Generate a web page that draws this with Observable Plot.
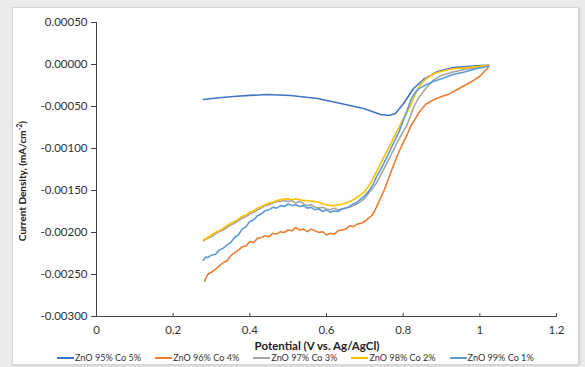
<!DOCTYPE html>
<html>
<head>
<meta charset="utf-8">
<script src="https://cdn.jsdelivr.net/npm/d3@7"></script>
<script src="https://cdn.jsdelivr.net/npm/@observablehq/plot@0.6"></script>
<style>
  html, body { margin: 0; padding: 0; }
  body { width: 585px; height: 367px; background: #ececec; position: relative; overflow: hidden; font-family: Lato, "Open Sans", sans-serif; }
  #panel { position: absolute; left: 12px; top: 7px; width: 565px; height: 356px; background: #fff; border: 1px solid #d4d4d4; box-shadow: 1px 1px 3px rgba(0,0,0,0.12); }
  #chart { position: absolute; left: 0; top: 0; }
  #ylabel { position: absolute; left: 22px; top: 181px; transform: translate(-50%, -50%) rotate(-90deg); font-size: 10px; font-weight: bold; color: #222; white-space: nowrap; line-height: 12px; }
  #xlabel { position: absolute; left: 317px; top: 345px; transform: translate(-50%, -50%); font-size: 11.5px; font-weight: bold; color: #222; white-space: nowrap; }
  #legend { position: absolute; left: 57px; top: 352px; display: flex; font-size: 9.1px; color: #333; white-space: nowrap; }
  .item { display: flex; align-items: center; margin-right: 14px; }
  .sw { display: inline-block; width: 17px; height: 2px; margin-right: 1px; }
</style>
</head>
<body>
<div id="panel"></div>
<div id="chart"></div>
<div id="ylabel">Current Density, (mA/cm<sup style="font-size:7px; line-height:0">-2</sup>)</div>
<div id="xlabel">Potential (V vs. Ag/AgCl)</div>
<div id="legend"></div>
<script>
const seriesNames = ["ZnO 95% Co 5%", "ZnO 96% Co 4%", "ZnO 97% Co 3%", "ZnO 98% Co 2%", "ZnO 99% Co 1%"];
const seriesColors = ["#4472C4", "#ED7D31", "#A5A5A5", "#FFC000", "#5B9BD5"];
const xTicks = [0, 0.2, 0.4, 0.6, 0.8, 1, 1.2];
const yTicks = [0.0005, 0, -0.0005, -0.001, -0.0015, -0.002, -0.0025, -0.003];

// [potential (V), current density]
const co5 = [
  [0.279,-0.000417],[0.32,-0.000395],[0.357,-0.000381],[0.40,-0.000368],[0.446,-0.000357],[0.506,-0.000369],
  [0.577,-0.000405],[0.637,-0.000464],[0.697,-0.000524],[0.741,-0.000595],[0.762,-0.000607],[0.780,-0.000583],
  [0.801,-0.000464],[0.827,-0.000286],[0.853,-0.000179],[0.890,-0.000083],[0.931,-0.000036],[1.002,-0.000012],[1.023,-0.000010]
];
const co4 = [
  [0.282,-0.00258],[0.29,-0.00250],[0.30,-0.00247],[0.31,-0.00244],[0.32,-0.00240],[0.33,-0.00236],[0.34,-0.00234],
  [0.35,-0.00228],[0.36,-0.00224],[0.37,-0.00221],[0.38,-0.00217],[0.39,-0.00216],[0.40,-0.00211],[0.41,-0.00212],
  [0.42,-0.00207],[0.43,-0.00206],[0.44,-0.00204],[0.45,-0.00205],[0.46,-0.00201],[0.47,-0.00202],[0.48,-0.00199],
  [0.49,-0.00200],[0.50,-0.00197],[0.51,-0.00198],[0.52,-0.00194],[0.53,-0.00197],[0.54,-0.00196],[0.55,-0.00199],
  [0.56,-0.00196],[0.57,-0.00198],[0.58,-0.00200],[0.59,-0.00199],[0.60,-0.00203],[0.61,-0.00201],[0.62,-0.00202],
  [0.63,-0.00198],[0.64,-0.00197],[0.65,-0.00196],[0.66,-0.00192],[0.67,-0.00193],[0.68,-0.00190],[0.69,-0.00189],
  [0.70,-0.00187],[0.71,-0.00183],[0.72,-0.00179],[0.73,-0.00170],[0.74,-0.00160],[0.75,-0.00150],[0.76,-0.00138],
  [0.77,-0.00126],[0.78,-0.00114],[0.79,-0.00103],[0.80,-0.00093],[0.81,-0.00084],[0.82,-0.00073],[0.83,-0.00066],
  [0.84,-0.00058],[0.85,-0.00052],[0.86,-0.00047],[0.88,-0.00042],[0.90,-0.00038],[0.92,-0.00035],[0.94,-0.00030],
  [0.96,-0.00025],[0.98,-0.00020],[1.00,-0.00014],[1.023,-0.00003]
];
const co3 = [
  [0.279,-0.00210],[0.29,-0.00207],[0.30,-0.00205],[0.31,-0.00202],[0.32,-0.00199],[0.33,-0.00197],[0.34,-0.00194],
  [0.35,-0.00191],[0.36,-0.00189],[0.37,-0.00186],[0.38,-0.00183],[0.39,-0.00181],[0.40,-0.00178],[0.41,-0.00176],
  [0.42,-0.00173],[0.43,-0.00171],[0.44,-0.00168],[0.45,-0.00167],[0.46,-0.00165],[0.47,-0.00163],[0.48,-0.00163],
  [0.49,-0.00162],[0.50,-0.00163],[0.51,-0.00162],[0.52,-0.00165],[0.53,-0.00163],[0.54,-0.00166],[0.55,-0.00168],
  [0.56,-0.00167],[0.57,-0.00170],[0.58,-0.00171],[0.59,-0.00170],[0.60,-0.00172],[0.61,-0.00173],[0.62,-0.00171],
  [0.63,-0.00173],[0.64,-0.00172],[0.65,-0.00171],[0.66,-0.00170],[0.67,-0.00168],[0.68,-0.00166],[0.69,-0.00163],
  [0.70,-0.00159],[0.71,-0.00153],[0.72,-0.00148],[0.73,-0.00141],[0.74,-0.00133],[0.75,-0.00124],[0.76,-0.00115],
  [0.77,-0.00106],[0.78,-0.00097],[0.79,-0.00088],[0.80,-0.00080],[0.81,-0.00072],[0.82,-0.00060],[0.83,-0.00048],
  [0.84,-0.00040],[0.85,-0.00034],[0.86,-0.00028],[0.88,-0.00018],[0.90,-0.00013],[0.93,-0.00009],[0.96,-0.00006],
  [1.00,-0.00003],[1.023,-0.00001]
];
const co2 = [
  [0.279,-0.00209],[0.29,-0.00206],[0.30,-0.00203],[0.31,-0.00200],[0.32,-0.00198],[0.33,-0.00195],[0.34,-0.00192],
  [0.35,-0.00189],[0.36,-0.00187],[0.37,-0.00184],[0.38,-0.00181],[0.39,-0.00179],[0.40,-0.00176],[0.41,-0.00174],
  [0.42,-0.00171],[0.43,-0.00169],[0.44,-0.00167],[0.45,-0.00165],[0.46,-0.00164],[0.47,-0.00162],[0.48,-0.00161],
  [0.49,-0.00160],[0.50,-0.00160],[0.51,-0.00161],[0.52,-0.00160],[0.53,-0.00161],[0.54,-0.00162],[0.55,-0.00162],
  [0.56,-0.00163],[0.57,-0.00163],[0.58,-0.00164],[0.59,-0.00166],[0.60,-0.00167],[0.61,-0.00168],[0.62,-0.00168],
  [0.63,-0.00167],[0.64,-0.00166],[0.65,-0.00165],[0.66,-0.00163],[0.67,-0.00161],[0.68,-0.00158],[0.69,-0.00155],
  [0.70,-0.00151],[0.71,-0.00145],[0.72,-0.00137],[0.73,-0.00128],[0.74,-0.00119],[0.75,-0.00110],[0.76,-0.00101],
  [0.77,-0.00092],[0.78,-0.00083],[0.79,-0.00074],[0.80,-0.00065],[0.81,-0.00057],[0.82,-0.00048],[0.83,-0.00037],
  [0.84,-0.00028],[0.85,-0.00021],[0.86,-0.00017],[0.88,-0.00011],[0.90,-0.00008],[0.93,-0.00005],[0.96,-0.00004],
  [1.00,-0.00002],[1.023,-0.00001]
];
const co1 = [
  [0.279,-0.00233],[0.285,-0.00229],[0.29,-0.00230],[0.30,-0.00227],[0.31,-0.00226],[0.32,-0.00221],[0.33,-0.00219],
  [0.34,-0.00215],[0.35,-0.00212],[0.36,-0.00206],[0.37,-0.00203],[0.38,-0.00196],[0.39,-0.00193],[0.40,-0.00187],
  [0.41,-0.00185],[0.42,-0.00180],[0.43,-0.00178],[0.44,-0.00174],[0.45,-0.00173],[0.46,-0.00170],[0.47,-0.00171],
  [0.48,-0.00168],[0.49,-0.00169],[0.50,-0.00166],[0.51,-0.00168],[0.52,-0.00167],[0.53,-0.00169],[0.54,-0.00168],
  [0.55,-0.00171],[0.56,-0.00170],[0.57,-0.00173],[0.58,-0.00172],[0.59,-0.00175],[0.60,-0.00173],[0.61,-0.00176],
  [0.62,-0.00174],[0.63,-0.00175],[0.64,-0.00172],[0.65,-0.00171],[0.66,-0.00169],[0.67,-0.00166],[0.68,-0.00164],
  [0.69,-0.00160],[0.70,-0.00156],[0.71,-0.00151],[0.72,-0.00144],[0.73,-0.00134],[0.74,-0.00126],[0.75,-0.00117],
  [0.76,-0.00108],[0.77,-0.00098],[0.78,-0.00089],[0.79,-0.00079],[0.80,-0.00067],[0.81,-0.00055],[0.82,-0.00042],
  [0.83,-0.00034],[0.84,-0.00029],[0.86,-0.00024],[0.88,-0.00020],[0.90,-0.00017],[0.93,-0.00012],[0.96,-0.00009],
  [0.99,-0.00005],[1.023,-0.00002]
];
const seriesData = [co5, co4, co3, co2, co1];

const rows = [];
seriesData.forEach((arr, i) => arr.forEach(([x, y]) => rows.push({series: seriesNames[i], x, y})));

const plot = Plot.plot({
  width: 585,
  height: 367,
  marginLeft: 96,
  marginRight: 29,
  marginTop: 22,
  marginBottom: 51,
  style: {background: "transparent", fontFamily: "Lato, 'Open Sans', sans-serif"},
  x: {domain: [0, 1.2]},
  y: {domain: [-0.003, 0.0005]},
  color: {domain: seriesNames, range: seriesColors},
  marks: [
    Plot.axisY({ticks: yTicks, tickFormat: d => d.toFixed(5), tickSize: 5, tickPadding: 4, label: null, fontSize: 11.5, color: "#333", stroke: "#444"}),
    Plot.axisX({ticks: xTicks, tickFormat: d => String(d), tickSize: 0, tickPadding: 9, label: null, fontSize: 11.5, color: "#333"}),
    Plot.ruleX(xTicks, {x: d => d, y1: -0.003, y2: -0.003, insetTop: -3, insetBottom: -1, stroke: "#444"}),
    Plot.ruleY([-0.003], {stroke: "#444"}),
    Plot.ruleX([0], {stroke: "#444"}),
    Plot.line(rows, {x: "x", y: "y", z: "series", stroke: "series", strokeWidth: 1.6})
  ]
});
document.getElementById("chart").appendChild(plot);

const legend = document.getElementById("legend");
seriesNames.forEach((n, i) => {
  const it = document.createElement("div");
  it.className = "item";
  it.innerHTML = `<span class="sw" style="background:${seriesColors[i]}"></span><span>${n}</span>`;
  legend.appendChild(it);
});
</script>
</body>
</html>
